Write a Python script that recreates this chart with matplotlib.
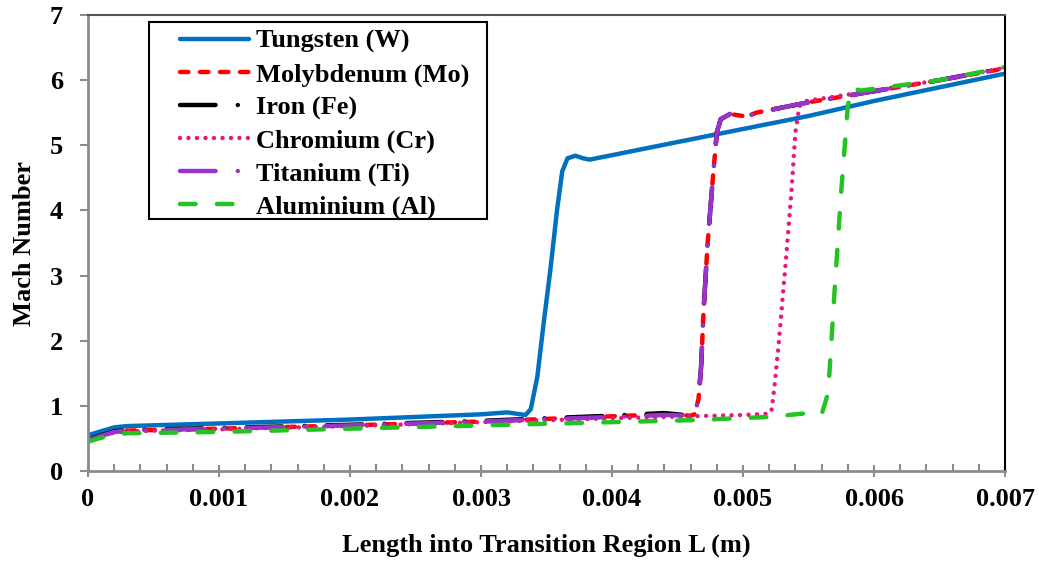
import matplotlib
matplotlib.use("Agg")
import matplotlib.pyplot as plt
from matplotlib.ticker import MultipleLocator
from matplotlib.patches import Rectangle

plt.rcParams['font.family'] = ['Liberation Serif', 'DejaVu Serif']
plt.rcParams['font.weight'] = 'bold'

# Tungsten (W)
w_x = [0, 0.0001, 0.0002, 0.0003, 0.001, 0.002, 0.003, 0.0032, 0.00334, 0.00338, 0.00343,
       0.00348, 0.00353, 0.00358, 0.00362, 0.00366, 0.00372, 0.00378, 0.00383, 0.0045, 0.0055, 0.006, 0.007]
w_y = [0.55, 0.61, 0.67, 0.69, 0.73, 0.79, 0.87, 0.90, 0.86, 0.95, 1.45,
       2.3, 3.1, 4.0, 4.6, 4.8, 4.84, 4.8, 4.78, 5.05, 5.45, 5.68, 6.1]

# Molybdenum (Mo)
mo_x = [0, 0.0001, 0.0002, 0.0003, 0.001, 0.002, 0.003, 0.004, 0.0044, 0.0046, 0.00463,
        0.00466, 0.00468, 0.0047, 0.00473, 0.00477, 0.0048, 0.00483, 0.0049, 0.00503,
        0.0051, 0.0055, 0.006, 0.0065, 0.007]
mo_y = [0.47, 0.54, 0.6, 0.62, 0.65, 0.7, 0.76, 0.84, 0.87, 0.85, 0.87,
        1.1, 1.6, 2.5, 3.5, 4.5, 5.2, 5.4, 5.48, 5.44,
        5.5, 5.66, 5.83, 6.0, 6.18]

# Iron (Fe)
fe_x = [0, 0.0001, 0.0002, 0.0003, 0.001, 0.002, 0.003, 0.004, 0.0044, 0.0046, 0.00463,
        0.00466, 0.00468, 0.0047, 0.00473, 0.00477, 0.0048, 0.00483, 0.0049, 0.00503,
        0.0051, 0.0055, 0.006, 0.0065, 0.007]
fe_y = [0.48, 0.55, 0.61, 0.63, 0.66, 0.71, 0.77, 0.85, 0.89, 0.85, 0.87,
        1.1, 1.6, 2.5, 3.5, 4.5, 5.2, 5.4, 5.48, 5.44,
        5.5, 5.66, 5.83, 6.0, 6.19]

# Chromium (Cr)
cr_x = [0, 0.0001, 0.0002, 0.0003, 0.001, 0.002, 0.003, 0.004, 0.0046, 0.005, 0.0052,
        0.00522, 0.00524, 0.00527, 0.0053, 0.00533, 0.00537, 0.0054, 0.00543, 0.00548,
        0.006, 0.0065, 0.007]
cr_y = [0.46, 0.53, 0.59, 0.61, 0.64, 0.69, 0.75, 0.81, 0.84, 0.86, 0.88,
        0.95, 1.3, 1.9, 2.6, 3.3, 4.3, 5.2, 5.6, 5.68,
        5.84, 6.0, 6.19]

# Titanium (Ti)
ti_x = [0, 0.0001, 0.0002, 0.0003, 0.001, 0.002, 0.003, 0.004, 0.0044, 0.0046, 0.00463,
        0.00466, 0.00468, 0.0047, 0.00473, 0.00477, 0.0048, 0.00483, 0.0049, 0.00503,
        0.0051, 0.0055, 0.006, 0.0065, 0.007]
ti_y = [0.47, 0.54, 0.6, 0.62, 0.65, 0.7, 0.76, 0.83, 0.86, 0.85, 0.87,
        1.1, 1.6, 2.5, 3.5, 4.5, 5.2, 5.4, 5.48, 5.44,
        5.5, 5.66, 5.83, 6.0, 6.18]

# Aluminium (Al)
al_x = [0, 0.0001, 0.0002, 0.0003, 0.001, 0.002, 0.003, 0.004, 0.0046, 0.0052, 0.0055,
        0.0056, 0.00565, 0.0057, 0.00575, 0.0058, 0.00583, 0.0059, 0.0065, 0.007]
al_y = [0.45, 0.51, 0.56, 0.58, 0.6, 0.65, 0.7, 0.75, 0.78, 0.83, 0.89,
        0.87, 1.2, 2.8, 4.3, 5.6, 5.88, 5.84, 6.0, 6.2]

labels = ['Tungsten (W)', 'Molybdenum (Mo)', 'Iron (Fe)', 'Chromium (Cr)',
          'Titanium (Ti)', 'Aluminium (Al)']
x_ticks = [0, 0.001, 0.002, 0.003, 0.004, 0.005, 0.006, 0.007]
x_tick_labels = ['0', '0.001', '0.002', '0.003', '0.004', '0.005', '0.006', '0.007']
y_ticks = [0, 1, 2, 3, 4, 5, 6, 7]

FS = 19

fig = plt.figure(figsize=(10.39, 5.62), dpi=100)
ax = fig.add_axes([0.0847, 0.1619, 0.8826, 0.8114])

lw = 3.2
ax.plot(w_x, w_y, color='#0070C0', lw=lw, solid_capstyle='round', solid_joinstyle='round', label=labels[0])
ax.plot(mo_x, mo_y, color='#FF0000', lw=lw, dashes=(1.9, 2.6), dash_capstyle='round', label=labels[1])
ax.plot(fe_x, fe_y, color='#000000', lw=lw, dashes=(8, 5, 0.01, 5), dash_capstyle='round', label=labels[2])
ax.plot(cr_x, cr_y, color='#E5197D', lw=lw, dashes=(0.01, 1.9), dash_capstyle='round', label=labels[3])
ax.plot(ti_x, ti_y, color='#9933CC', lw=lw, dashes=(8, 5, 0.01, 5), dash_capstyle='round', label=labels[4])
ax.plot(al_x, al_y, color='#22C322', lw=lw, dashes=(3.5, 4.8), dash_capstyle='round', label=labels[5])

ax.set_xlim(0, 0.007)
ax.set_ylim(0, 7)
ax.set_xticks(x_ticks)
ax.set_xticklabels(x_tick_labels)
ax.set_yticks(y_ticks)
ax.xaxis.set_minor_locator(MultipleLocator(0.0002))

for s in ['left', 'bottom']:
    ax.spines[s].set_color('#8C8C8C')
    ax.spines[s].set_linewidth(2)
ax.spines['top'].set_color('#555555')
ax.spines['top'].set_linewidth(1.5)
ax.spines['right'].set_color('#000000')
ax.spines['right'].set_linewidth(1.5)

ax.tick_params(axis='x', which='major', direction='inout', length=9, width=1.5, color='#8C8C8C',
               labelsize=FS, pad=8)
ax.tick_params(axis='x', which='minor', direction='in', length=5, width=1.5, color='#8C8C8C')
ax.tick_params(axis='y', which='major', direction='out', length=6, width=1.5, color='#8C8C8C',
               labelsize=FS, pad=12)
for t in ax.get_xticklabels() + ax.get_yticklabels():
    t.set_fontweight('bold')

ax.set_xlabel('Length into Transition Region L (m)', fontsize=FS, fontweight='bold', labelpad=16)
ax.set_ylabel('Mach Number', fontsize=FS, fontweight='bold', labelpad=10)

# legend box frame
ax.add_patch(Rectangle((0.0665, 0.5526), 0.3686, 0.432, transform=ax.transAxes,
                       facecolor='white', edgecolor='black', lw=1.5, zorder=4))
leg = ax.legend(loc='upper left', bbox_to_anchor=(0.1003, 0.968), frameon=False,
                handlelength=2.6, handletextpad=0.28,
                labelspacing=0.35, borderpad=0, borderaxespad=0,
                prop={'weight': 'bold', 'size': FS})
leg.set_zorder(5)

fig.savefig('out.png', dpi=100)
